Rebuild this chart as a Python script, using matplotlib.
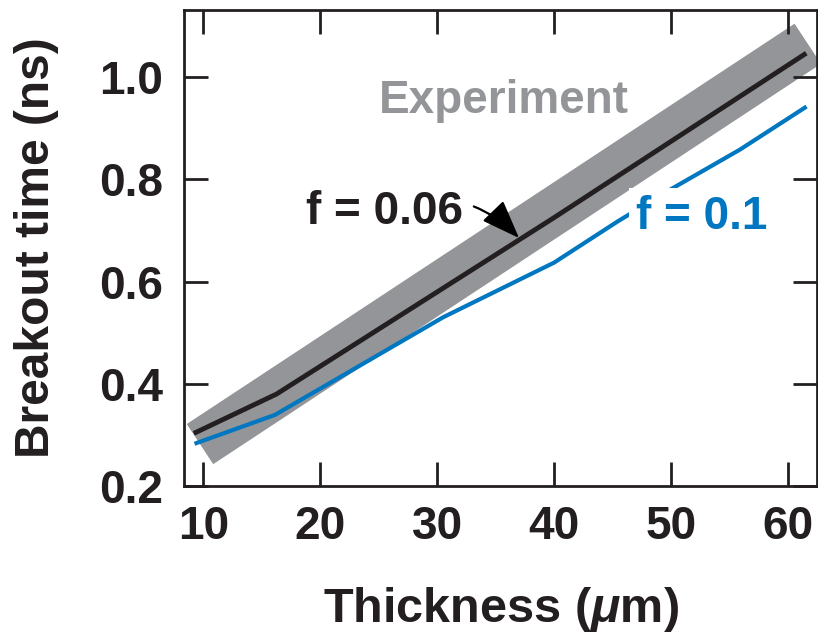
import matplotlib
matplotlib.use('Agg')
import matplotlib.pyplot as plt

# 实验数据带（中心线两端）
exp_x = [9.7, 61.7]
exp_y = [0.282, 1.065]

# f = 0.06 模拟曲线
f006_x = [9.36, 16.26, 40.0, 61.4]
f006_y = [0.305, 0.38, 0.725, 1.044]

# f = 0.1 模拟曲线
f01_x = [9.4, 16.1, 30.5, 40.0, 45.4, 49.65, 55.9, 61.45]
f01_y = [0.284, 0.339, 0.53, 0.637, 0.717, 0.776, 0.858, 0.94]

x_ticks = [10, 20, 30, 40, 50, 60]
y_ticks = [0.2, 0.4, 0.6, 0.8, 1.0]

DARK = '#231f20'
GRAY = '#939598'
BLUE = '#0077c0'

plt.rcParams['font.family'] = ['Liberation Sans', 'DejaVu Sans']
plt.rcParams['font.weight'] = 'bold'
plt.rcParams['mathtext.fontset'] = 'custom'
plt.rcParams['mathtext.it'] = 'Liberation Sans:italic:bold'
plt.rcParams['mathtext.rm'] = 'Liberation Sans:bold'

fig = plt.figure(figsize=(8.18, 6.34), dpi=100)
ax = fig.add_axes([0.2249, 0.2334, 0.774, 0.7516])

# 实验带
ax.plot(exp_x, exp_y, color=GRAY, lw=34.6, solid_capstyle='butt', zorder=1)
# 模拟结果
ax.plot(f01_x, f01_y, color=BLUE, lw=3.0, zorder=2)
ax.plot(f006_x, f006_y, color=DARK, lw=3.5, zorder=3)

ax.text(35.7, 0.930, 'Experiment', color=GRAY, fontsize=33, fontweight='bold',
        ha='center', va='baseline')
ax.annotate('f = 0.06', xy=(37.0, 0.685), xytext=(25.5, 0.713),
            fontsize=33, fontweight='bold', color=DARK, ha='center', va='baseline',
            arrowprops=dict(arrowstyle='-|>,head_length=0.8,head_width=0.3',
                            mutation_scale=30, color='black', lw=1.6,
                            shrinkA=6, shrinkB=0,
                            connectionstyle='arc3,rad=-0.35'))
ax.text(52.65, 0.702, 'f = 0.1', color=BLUE, fontsize=33, fontweight='bold',
        ha='center', va='baseline', zorder=4,
        bbox=dict(boxstyle='square,pad=0.15', fc='white', ec='none'))

ax.set_xlim(8.33, 62.5)
ax.set_ylim(0.2, 1.132)
ax.set_xticks(x_ticks)
ax.set_yticks(y_ticks)
ax.set_yticklabels([f'{v:.1f}' for v in y_ticks])
ax.tick_params(direction='in', length=17, width=2, color=DARK,
               top=True, right=True, labelsize=33, labelcolor=DARK)
ax.tick_params(axis='x', pad=14)
ax.tick_params(axis='y', pad=15)
for lbl in ax.get_xticklabels() + ax.get_yticklabels():
    lbl.set_fontweight('bold')
for s in ax.spines.values():
    s.set_linewidth(2)
    s.set_color(DARK)

ax.set_xlabel('Thickness ($\\mu$m)', fontsize=35, fontweight='bold', color=DARK)
ax.set_ylabel('Breakout time (ns)', fontsize=34.5, fontweight='bold', color=DARK)
ax.xaxis.set_label_coords(0.5, -0.208)
ax.yaxis.set_label_coords(-0.197, 0.5)

fig.savefig('out.png', dpi=100)
plt.close(fig)
